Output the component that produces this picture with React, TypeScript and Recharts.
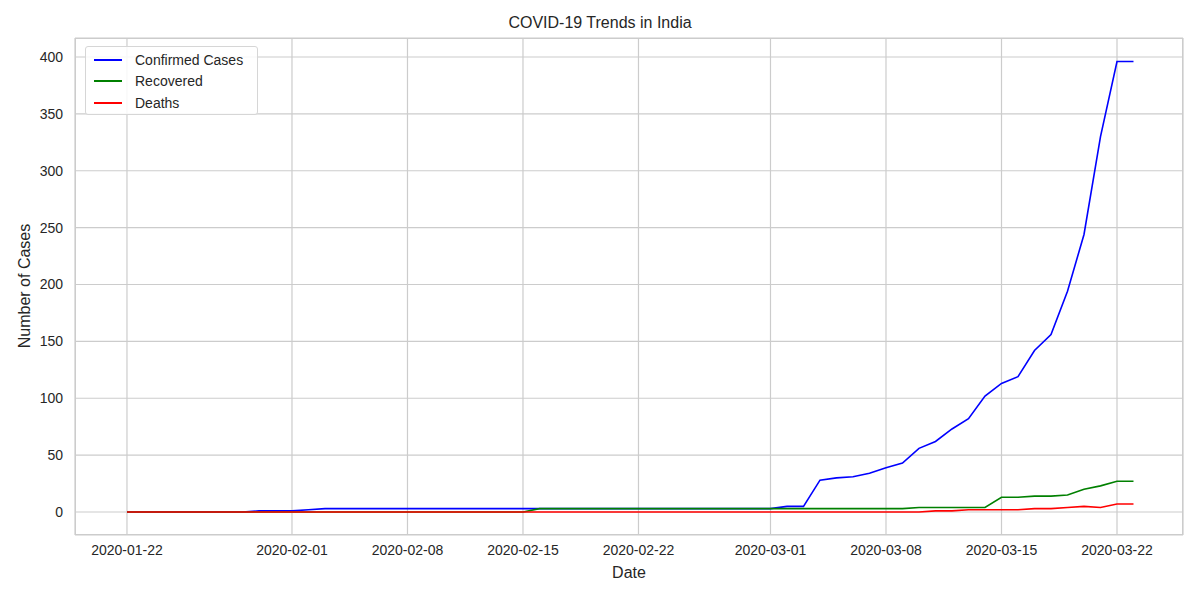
import React from "react";
import { CartesianGrid, Line, LineChart, XAxis, YAxis } from "recharts";

const startDate = "2020-01-22";
const confirmed = [
  0, 0, 0, 0, 0, 0, 0, 0, 1, 1, 1, 2, 3, 3, 3, 3, 3, 3, 3, 3, 3, 3, 3, 3, 3, 3, 3, 3, 3, 3, 3, 3,
  3, 3, 3, 3, 3, 3, 3, 3, 5, 5, 28, 30, 31, 34, 39, 43, 56, 62, 73, 82, 102, 113, 119, 142, 156,
  194, 244, 330, 396, 396,
];
const recovered = [
  0, 0, 0, 0, 0, 0, 0, 0, 0, 0, 0, 0, 0, 0, 0, 0, 0, 0, 0, 0, 0, 0, 0, 0, 0, 3, 3, 3, 3, 3, 3, 3,
  3, 3, 3, 3, 3, 3, 3, 3, 3, 3, 3, 3, 3, 3, 3, 3, 4, 4, 4, 4, 4, 13, 13, 14, 14, 15, 20, 23, 27, 27,
];
const deaths = [
  0, 0, 0, 0, 0, 0, 0, 0, 0, 0, 0, 0, 0, 0, 0, 0, 0, 0, 0, 0, 0, 0, 0, 0, 0, 0, 0, 0, 0, 0, 0, 0,
  0, 0, 0, 0, 0, 0, 0, 0, 0, 0, 0, 0, 0, 0, 0, 0, 0, 1, 1, 2, 2, 2, 2, 3, 3, 4, 5, 4, 7, 7,
];
const xTicks = [0, 10, 17, 24, 31, 39, 46, 53, 60];
const yTicks = [0, 50, 100, 150, 200, 250, 300, 350, 400];

const dayLabel = (i: number) => {
  const d = new Date(startDate + "T00:00:00Z");
  d.setUTCDate(d.getUTCDate() + i);
  return d.toISOString().slice(0, 10);
};

const data = confirmed.map((c, i) => ({ i, c, r: recovered[i], d: deaths[i] }));

const font = "'Liberation Sans', Arial, sans-serif";
const legendItems = [
  { label: "Confirmed Cases", color: "#0000ff" },
  { label: "Recovered", color: "#008000" },
  { label: "Deaths", color: "#ff0000" },
];

export default function App() {
  return (
    <div style={{ position: "absolute", left: 0, top: 0, width: 1200, height: 600, background: "#fff", fontFamily: font }}>
      <div style={{ position: "absolute", top: 14, width: 1200, textAlign: "center", fontSize: 16, color: "#262626" }}>
        COVID-19 Trends in India
      </div>
      <div style={{ position: "absolute", left: 16, top: 286, transform: "translate(-50%,-50%) rotate(-90deg)", transformOrigin: "center", fontSize: 16, color: "#262626", whiteSpace: "nowrap", marginLeft: 9 }}>
        Number of Cases
      </div>
      <div style={{ position: "absolute", top: 564, width: 1200, paddingLeft: 58, boxSizing: "border-box", textAlign: "center", fontSize: 16, color: "#262626" }}>
        Date
      </div>
      <LineChart width={1200} height={600} data={data} margin={{ top: 38, right: 17, bottom: 0, left: 0 }}>
        <CartesianGrid stroke="#cccccc" strokeWidth={1.2} />
        <XAxis
          dataKey="i"
          type="number"
          domain={[-3.15, 64.0]}
          ticks={xTicks}
          tickFormatter={(v) => dayLabel(Number(v))}
          height={65}
          axisLine={false}
          tickLine={false}
          tick={{ fill: "#262626", fontSize: 14, fontFamily: font }}
          tickMargin={4}
          allowDataOverflow
        />
        <YAxis
          type="number"
          domain={[-20.2, 416.7]}
          ticks={yTicks}
          width={75}
          axisLine={false}
          tickLine={false}
          tick={{ fill: "#262626", fontSize: 14, fontFamily: font }}
          tickMargin={6}
          allowDataOverflow
        />
        <Line dataKey="c" stroke="#0000ff" strokeWidth={1.6} dot={false} isAnimationActive={false} />
        <Line dataKey="r" stroke="#008000" strokeWidth={1.6} dot={false} isAnimationActive={false} />
        <Line dataKey="d" stroke="#ff0000" strokeWidth={1.6} dot={false} isAnimationActive={false} />
      </LineChart>
      <div style={{ position: "absolute", left: 75, top: 38, width: 1108, height: 497, border: "1.2px solid #cccccc", boxSizing: "border-box", pointerEvents: "none" }} />
      <div style={{ position: "absolute", left: 85, top: 46, width: 173, height: 69, border: "1px solid #d6d6d6", borderRadius: 3, background: "rgba(255,255,255,0.85)", boxSizing: "border-box", padding: "2px 8px" }}>
        {legendItems.map((it) => (
          <div key={it.label} style={{ display: "flex", alignItems: "center", height: 21.5, fontSize: 14, color: "#262626", whiteSpace: "nowrap" }}>
            <span style={{ display: "inline-block", width: 28, height: 2, background: it.color, marginRight: 13 }} />
            {it.label}
          </div>
        ))}
      </div>
    </div>
  );
}
